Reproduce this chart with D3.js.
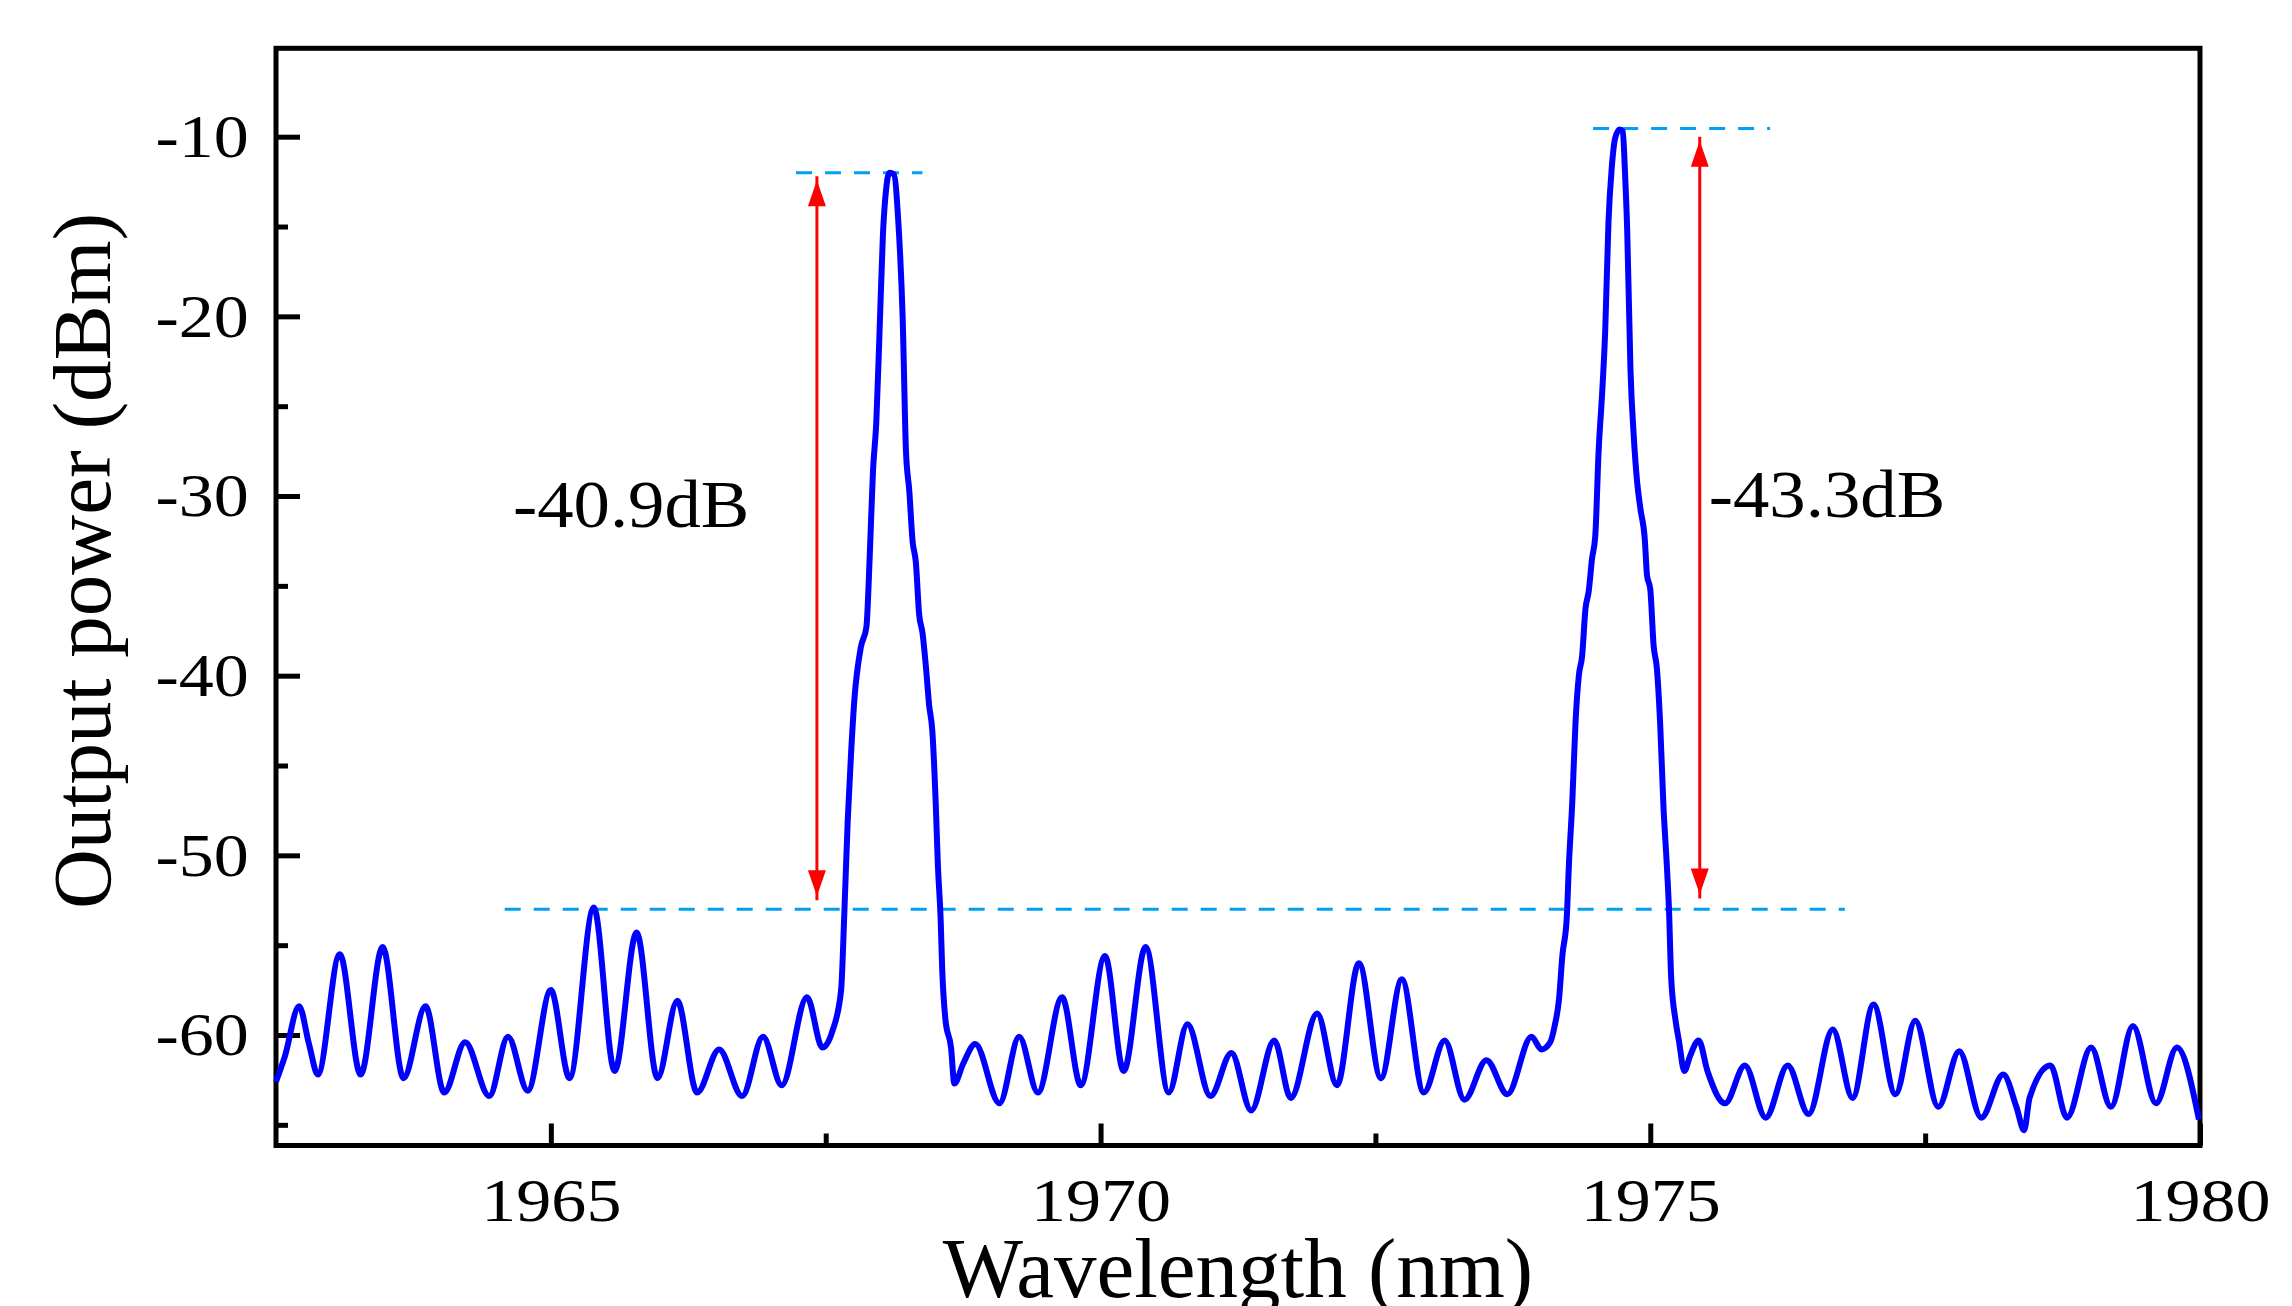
<!DOCTYPE html>
<html>
<head>
<meta charset="utf-8">
<script src="https://cdn.jsdelivr.net/npm/d3@7"></script>
<style>
  body { margin: 0; background: #fff; }
  svg { display: block; }
  text { font-family: "Liberation Serif", "Times New Roman", serif; fill: #000; }
</style>
</head>
<body>
<svg id="chart" width="2292" height="1306"></svg>
<script>
// spectrum: wavelength (nm) and output power (dBm)
var wavelength = [
  1962.50, 1962.58, 1962.71, 1962.80, 1962.88, 1963.08, 1963.27, 1963.47, 1963.66, 1963.86,
  1964.03, 1964.22, 1964.44, 1964.61, 1964.79, 1965.00, 1965.17, 1965.39, 1965.58, 1965.78,
  1965.97, 1966.15, 1966.33, 1966.53, 1966.74, 1966.93, 1967.10, 1967.33, 1967.47, 1967.56,
  1967.64, 1967.67, 1967.70, 1967.73, 1967.76, 1967.82, 1967.87, 1967.90, 1967.93, 1967.96,
  1967.99, 1968.02, 1968.05, 1968.08, 1968.12, 1968.16, 1968.20, 1968.23, 1968.26, 1968.29,
  1968.32, 1968.35, 1968.38, 1968.41, 1968.44, 1968.47, 1968.50, 1968.52, 1968.545, 1968.56,
  1968.59, 1968.64, 1968.67, 1968.75, 1968.86, 1969.08, 1969.26, 1969.43, 1969.65, 1969.82,
  1970.04, 1970.21, 1970.41, 1970.62, 1970.79, 1971.00, 1971.19, 1971.37, 1971.58, 1971.73,
  1971.97, 1972.15, 1972.35, 1972.55, 1972.74, 1972.94, 1973.13, 1973.31, 1973.51, 1973.70,
  1973.92, 1974.01, 1974.09, 1974.13, 1974.17, 1974.20, 1974.24, 1974.26, 1974.29, 1974.32,
  1974.35, 1974.38, 1974.41, 1974.44, 1974.47, 1974.50, 1974.53, 1974.56, 1974.59, 1974.62,
  1974.65, 1974.68, 1974.72, 1974.75, 1974.77, 1974.79, 1974.82, 1974.85, 1974.88, 1974.91,
  1974.95, 1974.97, 1975.00, 1975.03, 1975.06, 1975.09, 1975.12, 1975.15, 1975.17, 1975.19,
  1975.23, 1975.26, 1975.31, 1975.36, 1975.44, 1975.52, 1975.68, 1975.86, 1976.05, 1976.25,
  1976.44, 1976.66, 1976.84, 1977.03, 1977.23, 1977.41, 1977.62, 1977.81, 1978.01, 1978.21,
  1978.33, 1978.40, 1978.45, 1978.64, 1978.79, 1979.01, 1979.19, 1979.39, 1979.60, 1979.79,
  1979.99
];
var power = [
  -62.6, -61.2, -58.4, -60.5, -62.2, -55.5, -62.2, -55.1, -62.4, -58.4,
  -63.2, -60.4, -63.4, -60.1, -63.1, -57.5, -62.4, -52.9, -62.0, -54.3,
  -62.4, -58.1, -63.2, -60.8, -63.4, -60.1, -62.8, -57.9, -60.7, -59.8,
  -57.5, -53.1, -48.1, -44.4, -41.4, -38.4, -37.3, -33.4, -28.6, -25.9,
  -20.8, -15.5, -12.9, -12.0, -12.1, -14.7, -20.1, -27.5, -29.7, -32.5,
  -33.7, -36.6, -37.6, -39.4, -41.6, -43.1, -47.0, -50.5, -53.5, -56.4,
  -59.2, -60.7, -62.7, -61.6, -60.5, -63.8, -60.1, -63.2, -57.9, -62.8,
  -55.6, -62.0, -55.1, -63.2, -59.4, -63.4, -61.0, -64.2, -60.3, -63.5,
  -58.8, -62.8, -56.0, -62.4, -56.9, -63.2, -60.3, -63.6, -61.4, -63.3,
  -60.1, -60.8, -60.4, -59.5, -58.0, -55.6, -53.5, -50.5, -47.1, -42.6,
  -40.0, -38.9, -36.3, -35.3, -33.5, -32.2, -27.5, -24.5, -20.8, -14.7,
  -11.7, -10.1, -9.6, -9.7, -12.0, -15.2, -23.0, -26.7, -29.2, -30.7,
  -32.4, -34.4, -35.2, -38.3, -39.6, -42.7, -47.3, -50.5, -53.0, -56.8,
  -59.2, -60.3, -62.0, -61.2, -60.3, -62.0, -63.8, -61.7, -64.6, -61.7,
  -64.4, -59.7, -63.5, -58.3, -63.3, -59.2, -64.0, -60.9, -64.6, -62.2,
  -64.0, -65.3, -63.5, -61.7, -64.6, -60.7, -64.0, -59.5, -63.8, -60.7,
  -64.7
];

var xTicks = [1965, 1970, 1975, 1980],
    xMinor = [1967.5, 1972.5, 1977.5],
    yTicks = [-10, -20, -30, -40, -50, -60],
    yMinor = [-15, -25, -35, -45, -55, -65];

// dashed reference levels: [from, to, level]
var refLines = [
  [1967.23, 1968.38, -12.0],
  [1974.48, 1976.09, -9.55],
  [1964.58, 1976.77, -53.0]
];
// double arrows: [wavelength, top, bottom, label]
var arrows = [
  [1967.42, -12.2, -52.5, "-40.9dB"],
  [1975.45, -10.0, -52.4, "-43.3dB"]
];

var svg = d3.select("#chart");
svg.append("rect").attr("width", 2292).attr("height", 1306).attr("fill", "#fff");

var x = d3.scaleLinear().domain([1962.5, 1980]).range([276, 2200]),
    y = d3.scaleLinear().domain([-66.15, -5.08]).range([1145.5, 48.3]);

var serif = "Liberation Serif, Times New Roman, serif";
var g = svg.append("g");

// minor ticks
g.append("g").attr("transform", "translate(0,1145.5)")
  .call(d3.axisBottom(x).tickValues(xMinor).tickSize(-12).tickFormat(""))
  .call(function(a) { a.select(".domain").remove(); });
g.append("g").attr("transform", "translate(276,0)")
  .call(d3.axisLeft(y).tickValues(yMinor).tickSize(-12).tickFormat(""))
  .call(function(a) { a.select(".domain").remove(); });

// major ticks + labels
var xAxis = g.append("g").attr("transform", "translate(0,1145.5)")
  .call(d3.axisBottom(x).tickValues(xTicks).tickSize(-22).tickPadding(31).tickFormat(d3.format("d")));
var yAxis = g.append("g").attr("transform", "translate(276,0)")
  .call(d3.axisLeft(y).tickValues(yTicks).tickSize(-24).tickPadding(24).tickFormat(function(d) { return "-" + Math.abs(d); }));

[xAxis, yAxis].forEach(function(a) {
  a.attr("font-family", serif);
  a.select(".domain").remove();
  a.selectAll("text").attr("font-size", 62).attr("transform", "scale(1.13,1)");
});
g.selectAll(".tick line").attr("stroke", "#000").attr("stroke-width", 5);

// frame
g.append("rect")
  .attr("x", 276).attr("y", 48.3)
  .attr("width", 2200 - 276).attr("height", 1145.5 - 48.3)
  .attr("fill", "none").attr("stroke", "#000").attr("stroke-width", 5);

// dashed levels
g.selectAll(".ref").data(refLines).enter().append("line")
  .attr("class", "ref")
  .attr("x1", function(d) { return x(d[0]); })
  .attr("x2", function(d) { return x(d[1]); })
  .attr("y1", function(d) { return y(d[2]); })
  .attr("y2", function(d) { return y(d[2]); })
  .attr("stroke", "#00a0f0").attr("stroke-width", 3)
  .attr("stroke-dasharray", "16,13");

// spectrum
var pts = wavelength.map(function(w, i) { return [w, power[i]]; });
var line = d3.line()
  .x(function(d) { return x(d[0]); })
  .y(function(d) { return y(d[1]); })
  .curve(d3.curveMonotoneX);
g.append("path").datum(pts)
  .attr("d", line)
  .attr("fill", "none").attr("stroke", "#0000ff").attr("stroke-width", 6)
  .attr("stroke-linejoin", "round");

// red double arrows
var ar = g.selectAll(".arrow").data(arrows).enter().append("g").attr("class", "arrow");
ar.append("line")
  .attr("x1", function(d) { return x(d[0]); }).attr("x2", function(d) { return x(d[0]); })
  .attr("y1", function(d) { return y(d[1]); }).attr("y2", function(d) { return y(d[2]); })
  .attr("stroke", "#ff0000").attr("stroke-width", 3);
ar.append("path")
  .attr("d", function(d) {
    var cx = x(d[0]), t = y(d[1]) + 4, b = y(d[2]) - 4;
    return "M" + cx + "," + t + "L" + (cx - 9) + "," + (t + 26) + "L" + (cx + 9) + "," + (t + 26) + "Z" +
           "M" + cx + "," + b + "L" + (cx - 9) + "," + (b - 26) + "L" + (cx + 9) + "," + (b - 26) + "Z";
  })
  .attr("fill", "#ff0000");

// labels next to arrows
g.append("text")
  .attr("transform", "translate(" + (x(arrows[0][0]) - 304) + "," + 527 + ") scale(1.07,1)")
  .attr("font-size", 68)
  .text(arrows[0][3]);
g.append("text")
  .attr("transform", "translate(" + (x(arrows[1][0]) + 9) + "," + 517 + ") scale(1.07,1)")
  .attr("font-size", 68)
  .text(arrows[1][3]);

// axis titles
svg.append("text")
  .attr("x", 1238).attr("y", 1297)
  .attr("text-anchor", "middle").attr("font-size", 85)
  .text("Wavelength (nm)");
svg.append("text")
  .attr("transform", "translate(110,561) rotate(-90)")
  .attr("text-anchor", "middle").attr("font-size", 83)
  .text("Output power (dBm)");
</script>
</body>
</html>
